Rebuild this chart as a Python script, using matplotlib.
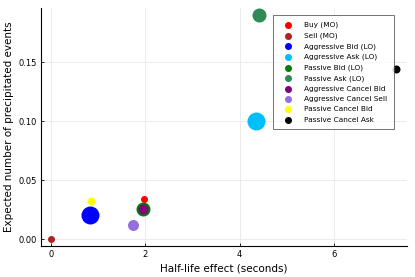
import matplotlib
matplotlib.use("Agg")
import matplotlib.pyplot as plt

labels = ["Buy (MO)", "Sell (MO)", "Aggressive Bid (LO)", "Aggressive Ask (LO)",
          "Passive Bid (LO)", "Passive Ask (LO)", "Aggressive Cancel Bid",
          "Aggressive Cancel Sell", "Passive Cancel Bid", "Passive Cancel Ask"]
half_life = [1.97, 0.0, 0.83, 4.34, 1.96, 4.41, 1.95, 1.73, 0.84, 7.31]
expected = [0.0336, 0.0, 0.020, 0.100, 0.0254, 0.190, 0.0254, 0.0115, 0.0320, 0.1440]
sizes_px = [7, 7, 18, 18, 14, 14, 10, 11, 8, 8]
colors = ["red", "firebrick", "blue", "deepskyblue", "green", "seagreen",
          "purple", "mediumpurple", "yellow", "black"]

fig = plt.figure(figsize=(4.15, 2.77), dpi=100)
ax = fig.add_axes([41/415, 1-246/277, (407-41)/415, (246-8)/277])

for lab, x, y, d, c in zip(labels, half_life, expected, sizes_px, colors):
    s = (d * 0.72) ** 2
    ax.scatter([x], [y], s=s, color=c, label=lab, linewidths=0, zorder=3)

ax.set_xlim(-0.212, 7.547)
ax.set_ylim(-0.0059, 0.1958)
ax.set_xticks([0, 2, 4, 6])
ax.set_yticks([0.0, 0.05, 0.10, 0.15])
ax.set_yticklabels(["0.00", "0.05", "0.10", "0.15"])
ax.grid(True, color="#e8e8e8", linewidth=0.6)
ax.set_axisbelow(True)
for side in ["top", "right"]:
    ax.spines[side].set_visible(False)
for side in ["left", "bottom"]:
    ax.spines[side].set_linewidth(0.8)
ax.tick_params(labelsize=6, length=2.5, width=0.6, direction="in", pad=3)
ax.set_xlabel("Half-life effect (seconds)", fontsize=7.5, labelpad=3)
ax.set_ylabel("Expected number of precipitated events", fontsize=7.5, labelpad=3)

leg = ax.legend(loc="upper right", bbox_to_anchor=(0.9645, 0.9706), borderaxespad=0,
                fontsize=5.3, frameon=True, fancybox=False, markerscale=1,
                handlelength=2.5, handletextpad=0.9, labelspacing=0.55, borderpad=0.9,
                scatterpoints=1)
for h in leg.legend_handles:
    h.set_sizes([(7 * 0.72) ** 2])
leg.get_frame().set_edgecolor("#333333")
leg.get_frame().set_linewidth(0.6)
leg.set_zorder(5)

fig.savefig("out.png", dpi=100)
